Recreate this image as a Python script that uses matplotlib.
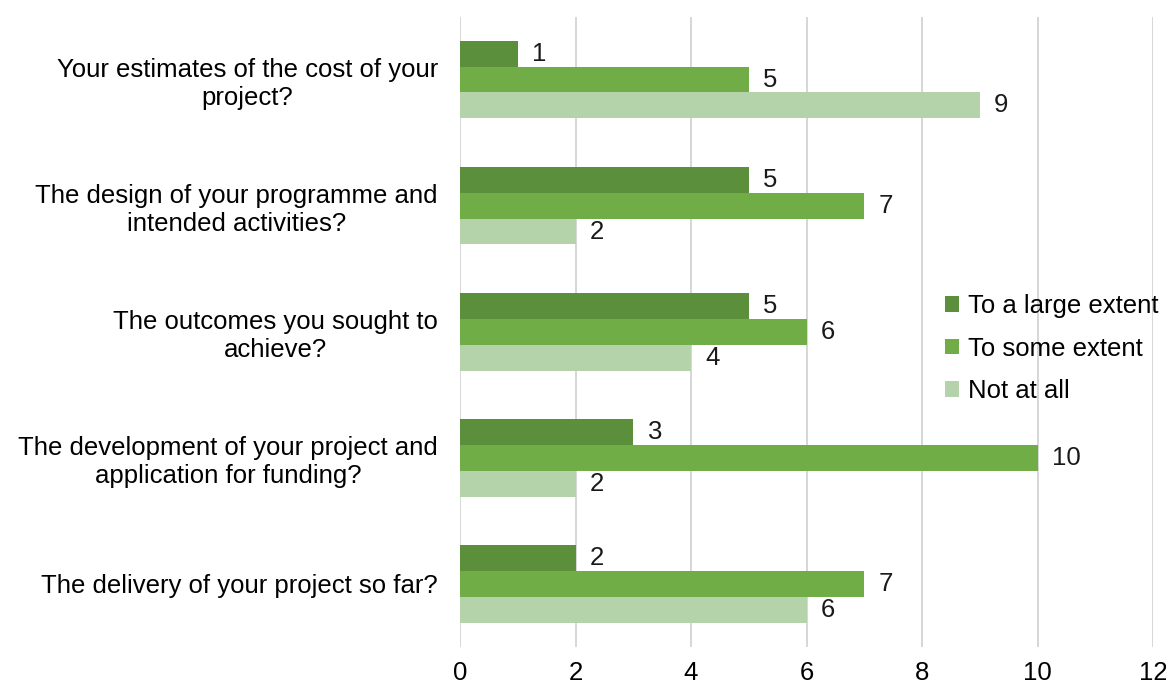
import matplotlib
matplotlib.use("Agg")
import matplotlib.pyplot as plt
import numpy as np

plt.rcParams['font.family'] = ['Liberation Sans', 'DejaVu Sans']

categories = [
    "Your estimates of the cost of your\nproject?",
    "The design of your programme and\nintended activities?",
    "The outcomes you sought to\nachieve?",
    "The development of your project and\napplication for funding?",
    "The delivery of your project so far?",
]
series_names = ["To a large extent", "To some extent", "Not at all"]
large = [1, 5, 5, 3, 2]
some = [5, 7, 6, 10, 7]
not_at_all = [9, 2, 4, 2, 6]
colors = ["#5B8F3C", "#70AD47", "#B5D3AA"]
xticks = [0, 2, 4, 6, 8, 10, 12]

FS = 18.5
fig = plt.figure(figsize=(11.66, 6.86), dpi=100)
ax = fig.add_axes([460/1166, 1 - 647/686, (1153-460)/1166, (647-16.5)/686])

n = len(categories)
ypos = np.arange(n)
h = 0.205
offsets = [-h, 0, h]
for vals, off, c, name in zip([large, some, not_at_all], offsets, colors, series_names):
    bars = ax.barh(ypos + off, vals, height=h, color=c, label=name, zorder=3)
    for b, v in zip(bars, vals):
        ax.text(v + 0.25, b.get_y() + b.get_height()/2, str(v),
                va='center', ha='left', fontsize=FS, color='#1a1a1a')

ax.set_ylim(n - 0.5, -0.5)
ax.set_xlim(0, 12)
ax.set_xticks(xticks)
ax.set_xticklabels([str(t) for t in xticks], fontsize=FS)
ax.set_yticks(ypos)
ax.set_yticklabels(categories, fontsize=FS, multialignment='center')
ax.tick_params(axis='y', length=0, pad=16)
ax.tick_params(axis='x', length=0, pad=10)
for s in ax.spines.values():
    s.set_visible(False)
ax.grid(axis='x', color='#D0D0D0', linewidth=1.2, zorder=0)
ax.set_axisbelow(True)

leg = ax.legend(loc='upper left', bbox_to_anchor=((935-460)/693, 1 - (284-16.5)/630.5),
                frameon=False, fontsize=FS, handlelength=0.55, handleheight=0.55,
                handletextpad=0.35, labelspacing=0.72, borderaxespad=0)

fig.savefig("out.png", dpi=100)
